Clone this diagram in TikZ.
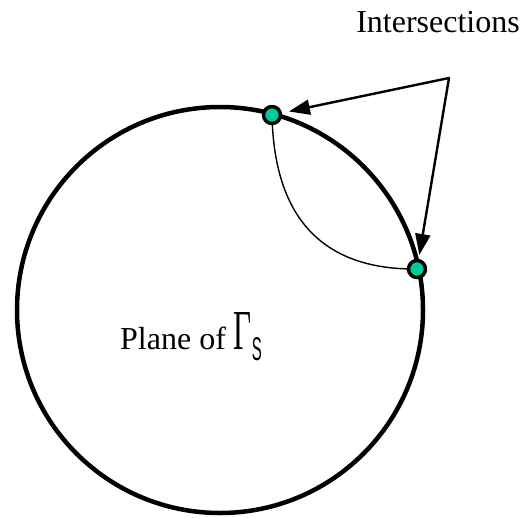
\documentclass[tikz,border=0pt]{standalone}
\usepackage{fontspec}
\setmainfont{Liberation Serif}
\setsansfont{Liberation Sans}
\usepackage{graphicx}
\usetikzlibrary{arrows.meta}
\definecolor{dotgreen}{RGB}{0,204,153}
\tikzset{
  rim/.style={line width=4.5pt},
  dot/.style={circle,draw,line width=3.5pt,fill=dotgreen,minimum size=17pt,inner sep=0pt},
  leader/.style={line width=2.4pt,-{Triangle[length=21pt,width=15pt]}},
  arc line/.style={line width=1.4pt},
  label text/.style={font=\fontsize{32}{36}\selectfont,inner sep=0pt}
}
\begin{document}
\begin{tikzpicture}[x=1pt,y=-1pt,line cap=round,line join=round]
  \useasboundingbox (0,0) rectangle (524,517);
  \coordinate (C) at (220,310);
  \draw[rim] (C) circle (203);
  \draw[arc line] (272,115) .. controls (274,215) and (320,270) .. (417,269);
  \node[dot] (top) at (272,115) {};
  \node[dot] (side) at (417,269) {};
  \coordinate (apex) at (449,78);
  \draw[leader,shorten >=7pt] (apex) -- (top);
  \draw[leader,shorten >=4pt] (apex) -- (side);
  \node[label text,anchor=base] (title) at (438,32) {Intersections};
  \node[label text,anchor=base west] (plane) at (120,349)
    {Plane of~\resizebox{18pt}{37pt}{Γ}\raisebox{-11pt}{\resizebox{10pt}{23pt}{\sffamily S}}};
\end{tikzpicture}
\end{document}
